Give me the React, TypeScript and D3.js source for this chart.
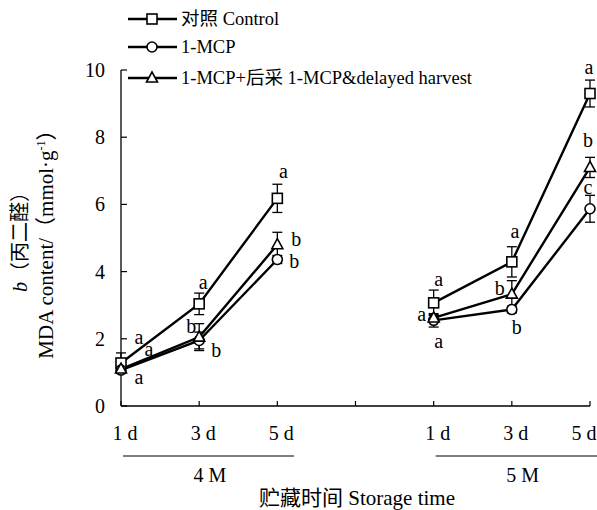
import React from 'react';
import * as d3 from 'd3';

// positions on the x axis: 0..2 = 4 M, 4..6 = 5 M
const days = ['1 d', '3 d', '5 d', '1 d', '3 d', '5 d'];
const slots = [0, 1, 2, 4, 5, 6];
const yTicks = [0, 2, 4, 6, 8, 10];

const controlVals = [1.28, 3.04, 6.18, 3.07, 4.29, 9.3];
const controlErr = [0.3, 0.32, 0.42, 0.38, 0.45, 0.4];
const mcpVals = [1.07, 1.95, 4.36, 2.55, 2.87, 5.87];
const mcpErr = [0.1, 0.25, 0.12, 0.2, 0.1, 0.4];
const delayVals = [1.1, 2.05, 4.8, 2.62, 3.33, 7.1];
const delayErr = [0.1, 0.4, 0.37, 0.1, 0.4, 0.3];

const controlLetters = ['a', 'a', 'a', 'a', 'a', 'a'];
const mcpLetters = ['a', 'b', 'b', 'a', 'b', 'c'];
const delayLetters = ['a', 'b', 'b', 'a', 'b', 'b'];

// letter offsets from the point, px
const controlOff = [[18, -25], [4, -21], [6, -26], [5, -23], [3, -30], [-1, -26]];
const mcpOff = [[18, 8], [17, 11], [17, 2], [5, 22], [5, 18], [-2, -21]];
const delayOff = [[28, -19], [-8, -10], [19, -5], [-12, -3], [-12, -5], [-2, -26]];

const series = [
  { name: '对照 Control', shape: 'square', vals: controlVals, err: controlErr, letters: controlLetters, off: controlOff },
  { name: '1-MCP', shape: 'circle', vals: mcpVals, err: mcpErr, letters: mcpLetters, off: mcpOff },
  { name: '1-MCP+后采 1-MCP&delayed harvest', shape: 'triangle', vals: delayVals, err: delayErr, letters: delayLetters, off: delayOff },
];

const FS = 20;

function Marker({ shape, x, y }: { shape: string; x: number; y: number }) {
  const st = { fill: '#fff', stroke: '#000', strokeWidth: 1.6 };
  if (shape === 'square') return <rect x={x - 5} y={y - 5} width={10} height={10} {...st} />;
  if (shape === 'circle') return <circle cx={x} cy={y} r={5} {...st} />;
  return <path d={`M${x},${y - 6}L${x + 5.5},${y + 4}L${x - 5.5},${y + 4}Z`} {...st} />;
}

export default function App() {
  const x = d3.scaleLinear().domain([0, 6]).range([121, 590]);
  const y = d3.scaleLinear().domain([0, 10]).range([406, 70]);
  const line = d3.line<[number, number]>().x(d => x(d[0])).y(d => y(d[1]));
  const groups = [
    { label: '4 M', idx: [0, 1, 2], from: 0 },
    { label: '5 M', idx: [3, 4, 5], from: 4 },
  ];

  return (
    <svg width={597} height={510} style={{ position: 'absolute', left: 0, top: 0 }}>
      <style>{`text { font-family: 'Liberation Serif', 'Times New Roman', 'Noto Sans CJK SC', serif; fill: #000; }`}</style>
      <rect width={597} height={510} fill="#fff" />
      {/* axes */}
      <line x1={x(0)} x2={x(0)} y1={y(10)} y2={y(0)} stroke="#000" strokeWidth={1.3} />
      <line x1={x(0)} x2={x(6)} y1={y(0)} y2={y(0)} stroke="#000" strokeWidth={1.3} />
      {yTicks.map(t => (
        <g key={t}>
          <line x1={x(0)} x2={x(0) + 6} y1={y(t)} y2={y(t)} stroke="#000" strokeWidth={1.2} />
          <text x={x(0) - 16} y={y(t)} dy="0.35em" textAnchor="end" fontSize={FS}>{t}</text>
        </g>
      ))}
      {d3.range(0, 7).map(i => (
        <line key={i} x1={x(i)} x2={x(i)} y1={y(0)} y2={y(0) - 5} stroke="#000" strokeWidth={1.2} />
      ))}
      {days.map((d, i) => (
        <text key={i} x={Math.min(x(slots[i]) + 4, 584)} y={433} dy="0.35em" textAnchor="middle" fontSize={FS}>{d}</text>
      ))}
      {groups.map(g => (
        <g key={g.label}>
          <line x1={x(g.from) + 2} x2={x(g.from) + 2 + 171} y1={456} y2={456} stroke="#000" strokeWidth={1} />
          <text x={x(g.from) + 89} y={475} dy="0.35em" textAnchor="middle" fontSize={FS}>{g.label}</text>
        </g>
      ))}
      <text x={357} y={498} dy="0.35em" textAnchor="middle" fontSize={21}>贮藏时间 Storage time</text>

      {/* y title */}
      <g transform="translate(20,237) rotate(-90)">
        <text textAnchor="middle" dy="0.35em" fontSize={20}>
          <tspan fontStyle="italic">b</tspan>（丙二醛）
        </text>
      </g>
      <g transform="translate(46,239) rotate(-90)">
        <text textAnchor="middle" dy="0.35em" fontSize={21}>
          MDA content/（mmol·g<tspan fontSize={12} dy="-0.7em">-1</tspan><tspan dy="0.45em">）</tspan>
        </text>
      </g>

      {/* series */}
      {series.map(s => (
        <g key={s.name}>
          {groups.map(g => (
            <path key={g.label}
              d={line(g.idx.map(i => [slots[i], s.vals[i]] as [number, number])) || ''}
              fill="none" stroke="#000" strokeWidth={2.4} />
          ))}
          {s.vals.map((v, i) => {
            const cx = x(slots[i]);
            const t = y(v + s.err[i]);
            const b = y(v - s.err[i]);
            return (
              <g key={i}>
                <line x1={cx} x2={cx} y1={t} y2={b} stroke="#000" strokeWidth={1.3} />
                <line x1={cx - 5} x2={cx + 5} y1={t} y2={t} stroke="#000" strokeWidth={1.3} />
                <line x1={cx - 5} x2={cx + 5} y1={b} y2={b} stroke="#000" strokeWidth={1.3} />
              </g>
            );
          })}
        </g>
      ))}
      {series.map(s => (
        <g key={s.name + 'm'}>
          {s.vals.map((v, i) => (
            <Marker key={i} shape={s.shape} x={x(slots[i])} y={y(v)} />
          ))}
          {s.letters.map((l, i) => (
            <text key={'l' + i} x={x(slots[i]) + s.off[i][0]} y={y(s.vals[i]) + s.off[i][1]} dy="0.3em" textAnchor="middle" fontSize={FS}>{l}</text>
          ))}
        </g>
      ))}

      {/* legend */}
      {series.map((s, i) => {
        const ly = [19, 47, 78][i];
        return (
          <g key={s.name + 'lg'}>
            <line x1={128} x2={177} y1={ly} y2={ly} stroke="#000" strokeWidth={2.4} />
            <Marker shape={s.shape} x={152} y={ly} />
            <text x={181} y={ly} dy="0.35em" fontSize={18.5}>{s.name}</text>
          </g>
        );
      })}
    </svg>
  );
}
